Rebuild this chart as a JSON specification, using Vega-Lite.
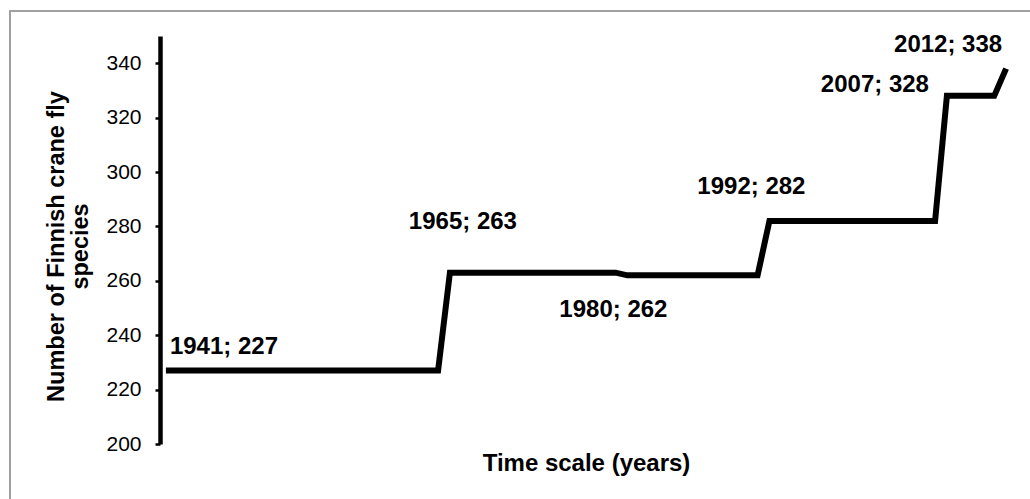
{
  "$schema": "https://vega.github.io/schema/vega-lite/v6.json",
  "width": 852,
  "height": 408,
  "autosize": {"type": "none"},
  "padding": {"left": 160, "top": 36, "right": 18, "bottom": 55},
  "background": "white",
  "config": {
    "view": {"stroke": null},
    "font": "Liberation Sans"
  },
  "datasets": {
    "series": [
      {"year": 1941, "species": 227}, {"year": 1942, "species": 227}, {"year": 1943, "species": 227}, {"year": 1944, "species": 227},
      {"year": 1945, "species": 227}, {"year": 1946, "species": 227}, {"year": 1947, "species": 227}, {"year": 1948, "species": 227},
      {"year": 1949, "species": 227}, {"year": 1950, "species": 227}, {"year": 1951, "species": 227}, {"year": 1952, "species": 227},
      {"year": 1953, "species": 227}, {"year": 1954, "species": 227}, {"year": 1955, "species": 227}, {"year": 1956, "species": 227},
      {"year": 1957, "species": 227}, {"year": 1958, "species": 227}, {"year": 1959, "species": 227}, {"year": 1960, "species": 227},
      {"year": 1961, "species": 227}, {"year": 1962, "species": 227}, {"year": 1963, "species": 227}, {"year": 1964, "species": 227},
      {"year": 1965, "species": 263}, {"year": 1966, "species": 263}, {"year": 1967, "species": 263}, {"year": 1968, "species": 263},
      {"year": 1969, "species": 263}, {"year": 1970, "species": 263}, {"year": 1971, "species": 263}, {"year": 1972, "species": 263},
      {"year": 1973, "species": 263}, {"year": 1974, "species": 263}, {"year": 1975, "species": 263}, {"year": 1976, "species": 263},
      {"year": 1977, "species": 263}, {"year": 1978, "species": 263}, {"year": 1979, "species": 263},
      {"year": 1980, "species": 262}, {"year": 1981, "species": 262}, {"year": 1982, "species": 262}, {"year": 1983, "species": 262},
      {"year": 1984, "species": 262}, {"year": 1985, "species": 262}, {"year": 1986, "species": 262}, {"year": 1987, "species": 262},
      {"year": 1988, "species": 262}, {"year": 1989, "species": 262}, {"year": 1990, "species": 262}, {"year": 1991, "species": 262},
      {"year": 1992, "species": 282}, {"year": 1993, "species": 282}, {"year": 1994, "species": 282}, {"year": 1995, "species": 282},
      {"year": 1996, "species": 282}, {"year": 1997, "species": 282}, {"year": 1998, "species": 282}, {"year": 1999, "species": 282},
      {"year": 2000, "species": 282}, {"year": 2001, "species": 282}, {"year": 2002, "species": 282}, {"year": 2003, "species": 282},
      {"year": 2004, "species": 282}, {"year": 2005, "species": 282}, {"year": 2006, "species": 282},
      {"year": 2007, "species": 328}, {"year": 2008, "species": 328}, {"year": 2009, "species": 328}, {"year": 2010, "species": 328},
      {"year": 2011, "species": 328}, {"year": 2012, "species": 338}
    ],
    "labels": [
      {"year": 1941, "species": 227, "label": "1941; 227"},
      {"year": 1965, "species": 263, "label": "1965; 263"},
      {"year": 1980, "species": 262, "label": "1980; 262"},
      {"year": 1992, "species": 282, "label": "1992; 282"},
      {"year": 2007, "species": 328, "label": "2007; 328"},
      {"year": 2012, "species": 338, "label": "2012; 338"}
    ]
  },
  "layer": [
    {
      "data": {"name": "series"},
      "mark": {"type": "rule", "color": "#a0a0a0", "strokeWidth": 1.5, "clip": false},
      "encoding": {
        "x": {"datum": 1927.82, "type": "quantitative"},
        "x2": {"datum": 2030},
        "y": {"datum": 359.2, "type": "quantitative"}
      }
    },
    {
      "data": {"name": "series"},
      "mark": {"type": "rule", "color": "#a0a0a0", "strokeWidth": 1.5, "clip": false},
      "encoding": {
        "x": {"datum": 1927.82, "type": "quantitative"},
        "y": {"datum": 359.2, "type": "quantitative"},
        "y2": {"datum": 150}
      }
    },
    {
      "data": {"name": "series"},
      "mark": {"type": "line", "color": "black", "strokeWidth": 6, "clip": false},
      "encoding": {
        "x": {
          "field": "year",
          "type": "quantitative",
          "scale": {"domain": [1940.5, 2012.5], "nice": false, "zero": false},
          "axis": {
            "domain": false,
            "ticks": false,
            "labels": false,
            "grid": false,
            "title": "Time scale (years)",
            "titleFont": "Liberation Sans",
            "titleFontSize": 24,
            "titleFontWeight": "bold",
            "titleColor": "black",
            "titleBaseline": "alphabetic",
            "titleY": 26
          }
        },
        "y": {
          "field": "species",
          "type": "quantitative",
          "scale": {"domain": [200, 350], "nice": false, "zero": false},
          "axis": {
            "values": [200, 220, 240, 260, 280, 300, 320, 340],
            "grid": false,
            "domainColor": "black",
            "domainWidth": 4.5,
            "tickColor": "black",
            "tickWidth": 2.5,
            "tickSize": 5,
            "labelFont": "Liberation Sans",
            "labelFontSize": 21,
            "labelColor": "black",
            "labelPadding": 14,
            "title": ["Number of Finnish crane fly", "species"],
            "titleFont": "Liberation Sans",
            "titleFontSize": 23.5,
            "titleFontWeight": "bold",
            "titleColor": "black",
            "titleAngle": -90,
            "titleAlign": "center",
            "titleBaseline": "alphabetic",
            "titleLineHeight": 24,
            "titleX": -97,
            "titleY": 210
          }
        }
      }
    },
    {
      "data": {"name": "labels"},
      "transform": [{"filter": "datum.year == 1941"}],
      "mark": {"type": "text", "align": "left", "baseline": "alphabetic", "dx": 4, "dy": -17, "fontSize": 24, "fontWeight": "bold", "color": "black"},
      "encoding": {"x": {"field": "year", "type": "quantitative"}, "y": {"field": "species", "type": "quantitative"}, "text": {"field": "label"}}
    },
    {
      "data": {"name": "labels"},
      "transform": [{"filter": "datum.year == 1965"}],
      "mark": {"type": "text", "align": "center", "baseline": "alphabetic", "dx": 13, "dy": -44, "fontSize": 24, "fontWeight": "bold", "color": "black"},
      "encoding": {"x": {"field": "year", "type": "quantitative"}, "y": {"field": "species", "type": "quantitative"}, "text": {"field": "label"}}
    },
    {
      "data": {"name": "labels"},
      "transform": [{"filter": "datum.year == 1980"}],
      "mark": {"type": "text", "align": "center", "baseline": "alphabetic", "dx": -14, "dy": 42, "fontSize": 24, "fontWeight": "bold", "color": "black"},
      "encoding": {"x": {"field": "year", "type": "quantitative"}, "y": {"field": "species", "type": "quantitative"}, "text": {"field": "label"}}
    },
    {
      "data": {"name": "labels"},
      "transform": [{"filter": "datum.year == 1992"}],
      "mark": {"type": "text", "align": "center", "baseline": "alphabetic", "dx": -18, "dy": -27, "fontSize": 24, "fontWeight": "bold", "color": "black"},
      "encoding": {"x": {"field": "year", "type": "quantitative"}, "y": {"field": "species", "type": "quantitative"}, "text": {"field": "label"}}
    },
    {
      "data": {"name": "labels"},
      "transform": [{"filter": "datum.year == 2007"}],
      "mark": {"type": "text", "align": "center", "baseline": "alphabetic", "dx": -72, "dy": -4, "fontSize": 24, "fontWeight": "bold", "color": "black"},
      "encoding": {"x": {"field": "year", "type": "quantitative"}, "y": {"field": "species", "type": "quantitative"}, "text": {"field": "label"}}
    },
    {
      "data": {"name": "labels"},
      "transform": [{"filter": "datum.year == 2012"}],
      "mark": {"type": "text", "align": "center", "baseline": "alphabetic", "dx": -58, "dy": -17, "fontSize": 24, "fontWeight": "bold", "color": "black"},
      "encoding": {"x": {"field": "year", "type": "quantitative"}, "y": {"field": "species", "type": "quantitative"}, "text": {"field": "label"}}
    }
  ]
}
